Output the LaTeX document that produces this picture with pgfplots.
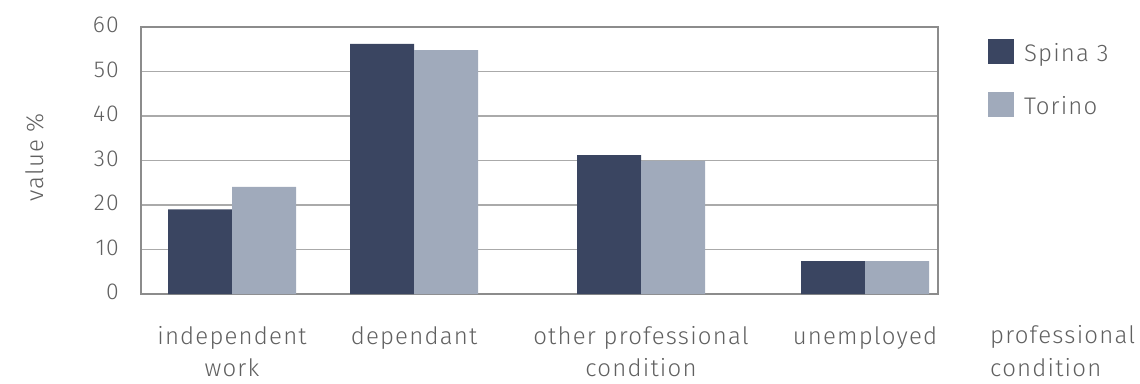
\documentclass[border=0pt]{standalone}
\usepackage{fontspec}
\setmainfont{Fira Sans Light}[LetterSpace=5]
\usepackage{pgfplots}
\pgfplotsset{compat=1.18}

\definecolor{spina}{RGB}{58,69,97}
\definecolor{torino}{RGB}{160,170,187}
\definecolor{txt}{RGB}{96,96,96}
\definecolor{framec}{RGB}{140,140,140}
\definecolor{gridc}{RGB}{170,170,170}

\newcommand{\lbl}{\fontsize{24}{32}\selectfont}
\newcommand{\num}{\fontsize{23}{28}\selectfont}

\begin{document}
\begin{tikzpicture}[x=1pt,y=1pt]
\useasboundingbox (0,0) rectangle (1140,383);
\begin{axis}[
  at={(141pt,89pt)}, anchor=south west,
  scale only axis, width=797pt, height=267pt,
  xmin=141, xmax=938, ymin=0, ymax=60,
  ytick={0,10,...,60},
  xtick={232,414,641,865},
  xticklabels={independent\\work, dependant, other professional\\condition, unemployed},
  major tick length=0pt,
  ymajorgrids, grid style={gridc, line width=1.2pt},
  axis line style={framec, line width=2pt},
  tick label style={text=txt},
  /pgf/number format/assume math mode=true,
  yticklabel style={font=\num, inner sep=0pt, anchor=east, xshift=-22pt, yshift=2pt},
  xticklabel style={font=\lbl, inner sep=0pt, anchor=north, align=center, yshift=-32.5pt},
  legend style={at={(axis cs:988,57.3)}, anchor=north west, draw=none, fill=none,
    inner sep=0pt, outer sep=0pt, row sep=28pt, column sep=10pt,
    nodes={inner sep=0pt, text=txt, font=\lbl}},
  legend cell align=left,
  legend image code/.code={\fill[#1] (0pt,-10.8pt) rectangle (26pt,14.2pt);},
]
% Spina 3
\addplot[ybar, fill=spina, draw=none, bar width=64, bar shift=-32]
  coordinates {(232,19.0) (414,56.2) (641,31.2) (865,7.4)};
\addlegendentry{Spina 3}
% Torino
\addplot[ybar, fill=torino, draw=none, bar width=64, bar shift=32]
  coordinates {(232,24.1) (414,54.8) (641,29.9) (865,7.4)};
\addlegendentry{Torino}
\end{axis}
\node[rotate=90, anchor=base, text=txt, font=\lbl, inner sep=0pt] at (43,225.5) {value \%};
\node[anchor=base west, text=txt, font=\lbl, inner sep=0pt] at (990,40) {professional};
\node[anchor=base west, text=txt, font=\lbl, inner sep=0pt] at (990,7) {condition};
\end{tikzpicture}
\end{document}
